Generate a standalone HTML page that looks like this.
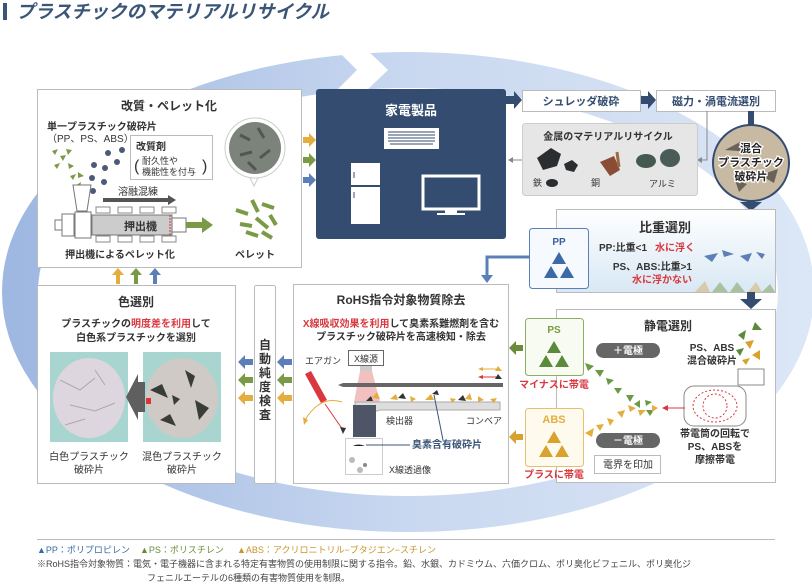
<!DOCTYPE html>
<html><head><meta charset="utf-8"><style>
html,body{margin:0;padding:0;background:#fff;width:812px;height:587px;overflow:hidden}
svg{display:block}
text{font-family:"Liberation Sans","Noto Sans CJK JP",sans-serif;font-weight:bold;fill:#333}
</style></head><body>
<svg width="812" height="587" viewBox="0 0 812 587" xmlns="http://www.w3.org/2000/svg">
<defs>
<linearGradient id="rg" x1="0" x2="1" y1="0" y2="0">
<stop offset="0" stop-color="#9fb8e2"/><stop offset="0.5" stop-color="#c9d8f0"/><stop offset="1" stop-color="#dbe6f6"/></linearGradient>
<linearGradient id="wat" x1="0" x2="0" y1="0" y2="1"><stop offset="0" stop-color="#fff"/><stop offset="1" stop-color="#d8e8f4"/></linearGradient>
</defs>
<rect x="3" y="3" width="4" height="17" fill="#3b5578"/>
<text x="16" y="18" font-size="18.5" style="fill:#3b5578;font-style:italic">プラスチックのマテリアルリサイクル</text>
<ellipse cx="408" cy="292" rx="388" ry="222" fill="none" stroke="url(#rg)" stroke-width="36"/>
<polygon points="335,48 365,48 388,70 365,92 335,92 357,70" fill="#fff"/>
<!-- pellet box -->
<rect x="37.5" y="89.5" width="264" height="178" fill="#fff" stroke="#bbb"/>
<text x="169" y="110" font-size="12" text-anchor="middle">改質・ペレット化</text>
<text x="47" y="130" font-size="10">単一プラスチック破砕片</text>
<text x="47" y="142" font-size="10" style="font-weight:normal">（PP、PS、ABS）</text>
<rect x="130.5" y="135.5" width="82" height="44" fill="#fff" stroke="#bbb"/>
<text x="136" y="150" font-size="10">改質剤</text>
<text x="142" y="164" font-size="9" style="font-weight:normal">耐久性や</text>
<text x="142" y="175" font-size="9" style="font-weight:normal">機能性を付与</text>
<text x="134" y="171" font-size="16" style="font-weight:normal">(</text><text x="202" y="171" font-size="16" style="font-weight:normal">)</text>
<g fill="#7a9a46">
<polygon points="52,151 58,149 55,155"/><polygon points="60,156 66,155 63,161"/><polygon points="66,149 72,150 68,155"/><polygon points="54,165 60,163 57,169"/><polygon points="68,163 74,166 69,169"/><polygon points="70,176 76,174 73,180"/><polygon points="78,172 84,176 78,178"/><polygon points="75,186 81,182 80,188"/></g>
<g fill="#4a5a78"><circle cx="108" cy="153" r="3"/><circle cx="122" cy="150" r="3"/><circle cx="94" cy="165" r="3"/><circle cx="105" cy="168" r="3"/><circle cx="117" cy="162" r="3"/><circle cx="92" cy="178" r="3"/><circle cx="104" cy="182" r="3"/><circle cx="93" cy="191" r="3"/></g>
<polygon points="73,185 91,185 87,211 77,211" fill="#fff" stroke="#777"/>
<text x="118" y="195" font-size="10" style="font-weight:normal">溶融混練</text>
<polygon points="103,198 168,198 168,195 176,200 168,205 168,202 103,202" fill="#555"/>
<rect x="96" y="207" width="14" height="6" fill="#fff" stroke="#888"/><rect x="118" y="207" width="14" height="6" fill="#fff" stroke="#888"/><rect x="140" y="207" width="14" height="6" fill="#fff" stroke="#888"/><rect x="162" y="207" width="14" height="6" fill="#fff" stroke="#888"/>
<rect x="96" y="236" width="14" height="6" fill="#fff" stroke="#888"/><rect x="118" y="236" width="14" height="6" fill="#fff" stroke="#888"/><rect x="140" y="236" width="14" height="6" fill="#fff" stroke="#888"/><rect x="162" y="236" width="14" height="6" fill="#fff" stroke="#888"/>
<rect x="55" y="220" width="8" height="10" fill="#fff" stroke="#777"/>
<rect x="62" y="214" width="12" height="22" fill="#fff" stroke="#777"/>
<rect x="75" y="212" width="16" height="26" fill="#fff" stroke="#777"/>
<rect x="92" y="215" width="80" height="20" fill="#ccc" stroke="#777"/>
<rect x="172" y="218" width="14" height="14" fill="#fff" stroke="#777"/>
<line x1="170" y1="215" x2="170" y2="235" stroke="#d33" stroke-dasharray="2,1"/>
<text x="124" y="230" font-size="11">押出機</text>
<polygon points="186,222 202,222 202,217 213,225 202,233 202,228 186,228" fill="#7a9a46"/>
<text x="120" y="258" font-size="10" text-anchor="middle">押出機によるペレット化</text>
<circle cx="255" cy="148" r="30" fill="#fff" stroke="#ccc"/>
<circle cx="255" cy="148" r="26" fill="#7c837a"/>
<g stroke="#555" stroke-width="3"><line x1="240" y1="135" x2="250" y2="140"/><line x1="258" y1="128" x2="264" y2="138"/><line x1="240" y1="155" x2="252" y2="152"/><line x1="260" y1="158" x2="270" y2="150"/><line x1="248" y1="162" x2="256" y2="170"/></g>
<polygon points="250,178 258,178 254,186" fill="#fff" stroke="#ccc"/>
<g stroke="#7a9a46" stroke-width="4"><line x1="236" y1="210" x2="248" y2="214"/><line x1="252" y1="200" x2="258" y2="212"/><line x1="262" y1="204" x2="274" y2="208"/><line x1="240" y1="224" x2="252" y2="226"/><line x1="256" y1="218" x2="268" y2="228"/><line x1="270" y1="215" x2="276" y2="225"/><line x1="246" y1="232" x2="258" y2="236"/><line x1="262" y1="232" x2="272" y2="238"/></g>
<text x="255" y="258" font-size="10" text-anchor="middle">ペレット</text>
<polygon points="303,137 309,137 309,133 316,140 309,147 309,143 303,143" fill="#e4ae3e"/>
<polygon points="303,157 309,157 309,153 316,160 309,167 309,163 303,163" fill="#7a9a46"/>
<polygon points="303,177 309,177 309,173 316,180 309,187 309,183 303,183" fill="#5b7fb6"/>
<polygon points="116,284 116,275 112,275 118,268 124,275 120,275 120,284" fill="#e4ae3e"/>
<polygon points="134,284 134,275 130,275 136,268 142,275 138,275 138,284" fill="#7a9a46"/>
<polygon points="153,284 153,275 149,275 155,268 161,275 157,275 157,284" fill="#5b7fb6"/>
<!-- 家電 -->
<rect x="316" y="89" width="190" height="150" rx="3" fill="#344c70"/>
<text x="411" y="115" font-size="13" text-anchor="middle" style="fill:#fff">家電製品</text>
<rect x="384" y="128" width="55" height="21" fill="#fff"/>
<g stroke="#344c70"><line x1="388" y1="132" x2="435" y2="132"/><line x1="388" y1="135" x2="435" y2="135"/><line x1="388" y1="138" x2="435" y2="138"/><line x1="388" y1="141" x2="435" y2="141"/><line x1="390" y1="144" x2="433" y2="144"/></g>
<rect x="351" y="163" width="29" height="61" fill="#fff"/><line x1="351" y1="186" x2="380" y2="186" stroke="#344c70" stroke-width="2"/>
<line x1="354" y1="172" x2="354" y2="178" stroke="#344c70"/><line x1="354" y1="192" x2="354" y2="198" stroke="#344c70"/>
<rect x="423" y="176" width="56" height="33" fill="none" stroke="#fff" stroke-width="3"/>
<rect x="445" y="210" width="12" height="3" fill="#fff"/><rect x="437" y="213" width="28" height="2" fill="#fff"/>
<!-- top flow -->
<polygon points="506,96 514,96 514,91 522,100 514,109 514,104 506,104" fill="#344c70"/>
<rect x="522.5" y="90.5" width="118" height="21" fill="#fff" stroke="#bbb"/>
<text x="581" y="105" font-size="11" text-anchor="middle" style="fill:#344c70">シュレッダ破砕</text>
<polygon points="641,96 648,96 648,91 656,100 648,109 648,104 641,104" fill="#344c70"/>
<rect x="656.5" y="90.5" width="119" height="21" fill="#fff" stroke="#bbb"/>
<text x="716" y="105" font-size="11" text-anchor="middle" style="fill:#344c70">磁力・渦電流選別</text>
<rect x="748" y="111" width="6" height="14" fill="#344c70"/>
<polyline points="707,111 707,160 700,160" fill="none" stroke="#888"/>
<polygon points="697,160 702,157 702,163" fill="#888"/>
<rect x="522.5" y="123.5" width="175" height="72" rx="3" fill="#e6e6e6" stroke="#ccc"/>
<text x="608" y="140" font-size="10" text-anchor="middle">金属のマテリアルリサイクル</text>
<path d="M537,158 l14,-10 l10,6 l-4,12 l-14,4z" fill="#2a2e30"/><path d="M564,164 l8,-4 l6,5 l-4,7 l-8,-2z" fill="#2a2e30"/><ellipse cx="552" cy="183" rx="6" ry="4" fill="#2a2e30"/>
<text x="533" y="186" font-size="9" style="font-weight:normal">鉄</text>
<path d="M600,162 l14,-6 l6,14 l-10,6z" fill="#8a4c34"/><line x1="617" y1="152" x2="619" y2="167" stroke="#9a6a44" stroke-width="3"/>
<text x="591" y="186" font-size="9" style="font-weight:normal">銅</text>
<ellipse cx="646" cy="161" rx="10" ry="7" fill="#445a50"/><ellipse cx="670" cy="158" rx="10" ry="9" fill="#4a5c58"/>
<text x="649" y="187" font-size="9" style="font-weight:normal">アルミ</text>
<line x1="511" y1="160" x2="522" y2="160" stroke="#888"/><polygon points="508,160 513,157 513,163" fill="#888"/>
<circle cx="751" cy="163" r="38" fill="#c7b9a2" stroke="#344c70" stroke-width="2"/>
<path d="M725,150 l15,-8 l10,10z M760,175 l18,-6 l-4,14z M735,180 l12,4 l-8,8z" fill="#6a6458"/>
<text x="751" y="152" font-size="11" text-anchor="middle" style="fill:#222;stroke:#fff;stroke-width:2.5;paint-order:stroke">混合</text>
<text x="751" y="166" font-size="11" text-anchor="middle" style="fill:#222;stroke:#fff;stroke-width:2.5;paint-order:stroke">プラスチック</text>
<text x="751" y="180" font-size="11" text-anchor="middle" style="fill:#222;stroke:#fff;stroke-width:2.5;paint-order:stroke">破砕片</text>
<polygon points="747,200 755,200 755,202 762,202 751,211 740,202 747,202" fill="#344c70"/>
<!-- 比重 -->
<rect x="556.5" y="209.5" width="219" height="83" fill="url(#wat)" stroke="#bbb"/>
<text x="665" y="232" font-size="13" text-anchor="middle">比重選別</text>
<text x="599" y="251" font-size="10">PP:比重&lt;1</text><text x="655" y="251" font-size="10" style="fill:#d9383f">水に浮く</text>
<text x="692" y="270" font-size="10" text-anchor="end">PS、ABS:比重&gt;1</text>
<text x="692" y="283" font-size="10" text-anchor="end" style="fill:#d9383f">水に浮かない</text>
<g fill="#5b7fb6"><polygon points="704,256 718,253 712,262"/><polygon points="722,250 734,254 724,257"/><polygon points="740,256 752,253 748,262"/><polygon points="756,252 765,254 762,259"/></g>
<g opacity="0.6"><polygon points="695,292 705,281 710,292" fill="#d4b87a"/><polygon points="712,292 720,282 728,292" fill="#8aa86a"/><polygon points="730,292 737,282 745,292" fill="#8aa86a"/><polygon points="748,292 756,282 762,292" fill="#d4b87a"/><polygon points="762,292 770,284 775,292" fill="#8aa86a"/></g>
<rect x="529.5" y="228.5" width="59" height="60" rx="3" fill="#f6f9fd" stroke="#5b7fb6"/>
<text x="559" y="245" font-size="10" text-anchor="middle" style="fill:#3b5f9a">PP</text>
<g fill="#3b6aa6"><polygon points="559,252 566,264 552,264"/><polygon points="551,266 558,278 544,278"/><polygon points="567,266 574,278 560,278"/></g>
<polyline points="529,257 487,257 487,276" fill="none" stroke="#5b7fb6" stroke-width="3"/>
<polygon points="481,275 493,275 487,283" fill="#5b7fb6"/>
<polygon points="747,292 755,292 755,299 762,299 751,309 740,299 747,299" fill="#344c70"/>
<!-- 静電 -->
<rect x="556.5" y="309.5" width="219" height="173" fill="#fff" stroke="#bbb"/>
<text x="668" y="330" font-size="12" text-anchor="middle">静電選別</text>
<rect x="596" y="343" width="64" height="15" rx="7.5" fill="#666"/>
<text x="628" y="354" font-size="10" text-anchor="middle" style="fill:#fff">＋電極</text>
<rect x="596" y="433" width="64" height="15" rx="7.5" fill="#666"/>
<text x="628" y="444" font-size="10" text-anchor="middle" style="fill:#fff">－電極</text>
<rect x="594.5" y="455.5" width="66" height="18" fill="#fff" stroke="#bbb"/>
<text x="628" y="468" font-size="10" text-anchor="middle" style="font-weight:normal">電界を印加</text>
<text x="712" y="351" font-size="10" text-anchor="middle">PS、ABS</text>
<text x="712" y="364" font-size="10" text-anchor="middle">混合破砕片</text>
<g fill="#5a8a3a"><polygon points="738,335 746,330 744,340"/><polygon points="755,322 762,330 752,330"/><polygon points="736,350 744,348 740,356"/></g>
<g fill="#d9a22e"><polygon points="745,342 754,340 750,349"/><polygon points="752,355 760,350 760,360"/><polygon points="742,360 750,358 746,365"/></g>
<rect x="738" y="369" width="26" height="16" fill="#fff" stroke="#888"/>
<rect x="684" y="386" width="62" height="40" rx="10" fill="#fff" stroke="#888"/>
<ellipse cx="715" cy="406" rx="22" ry="16" fill="none" stroke="#d9383f" stroke-dasharray="2,2"/>
<ellipse cx="715" cy="406" rx="12" ry="12" fill="none" stroke="#d9383f" stroke-dasharray="2,2"/>
<line x1="665" y1="408" x2="685" y2="408" stroke="#d9383f"/><polygon points="662,408 668,405 668,411" fill="#d9383f"/>
<text x="715" y="437" font-size="10" text-anchor="middle">帯電筒の回転で</text>
<text x="715" y="450" font-size="10" text-anchor="middle">PS、ABSを</text>
<text x="715" y="463" font-size="10" text-anchor="middle">摩擦帯電</text>
<g fill="#6a9a44"><polygon points="585,363 594,366 588,371"/><polygon points="595,370 604,370 600,377"/><polygon points="606,378 614,380 608,385"/><polygon points="614,388 622,388 618,394"/><polygon points="626,395 634,395 630,402"/><polygon points="634,404 640,400 640,408"/><polygon points="645,400 652,402 646,406"/><polygon points="646,410 654,410 650,416"/></g>
<g fill="#e4ae3e"><polygon points="585,433 594,428 592,437"/><polygon points="596,425 604,424 600,431"/><polygon points="607,418 614,420 610,426"/><polygon points="617,412 625,410 622,418"/><polygon points="628,405 636,408 630,412"/><polygon points="638,410 646,410 640,416"/><polygon points="652,405 658,408 652,412"/></g>
<rect x="525.5" y="318.5" width="58" height="57" rx="3" fill="#f7fbf2" stroke="#8ab060"/>
<text x="554" y="333" font-size="10" text-anchor="middle" style="fill:#7a9a46">PS</text>
<g fill="#5a8a3a"><polygon points="554,341 561,353 547,353"/><polygon points="546,355 553,367 539,367"/><polygon points="562,355 569,367 555,367"/></g>
<text x="554" y="388" font-size="10" text-anchor="middle" style="fill:#d9383f">マイナスに帯電</text>
<rect x="525.5" y="408.5" width="58" height="58" rx="3" fill="#fffaee" stroke="#e4c070"/>
<text x="554" y="423" font-size="11" text-anchor="middle" style="fill:#e4ae3e">ABS</text>
<g fill="#d9a22e"><polygon points="554,431 561,443 547,443"/><polygon points="546,445 553,457 539,457"/><polygon points="562,445 569,457 555,457"/></g>
<text x="554" y="478" font-size="10" text-anchor="middle" style="fill:#d9383f">プラスに帯電</text>
<polygon points="523,345 516,345 516,341 509,348 516,355 516,351 523,351" fill="#6a8c3a"/>
<polygon points="523,434 516,434 516,430 509,437 516,444 516,440 523,440" fill="#d9a22e"/>
<!-- RoHS -->
<rect x="293.5" y="284.5" width="215" height="199" fill="#fff" stroke="#bbb"/>
<text x="401" y="304" font-size="12" text-anchor="middle">RoHS指令対象物質除去</text>
<text x="401" y="327" font-size="10" text-anchor="middle"><tspan style="fill:#d9383f">X線吸収効果を利用</tspan>して臭素系難燃剤を含む</text>
<text x="401" y="340" font-size="10" text-anchor="middle">プラスチック破砕片を高速検知・除去</text>
<rect x="348.5" y="350.5" width="35" height="15" fill="#fff" stroke="#666"/>
<text x="366" y="362" font-size="9" text-anchor="middle" style="font-weight:normal">X線源</text>
<rect x="360" y="366" width="12" height="5" fill="#ccc"/>
<polygon points="360,371 372,371 380,402 354,402" fill="#f0b0b0" opacity="0.8"/>
<text x="305" y="364" font-size="9" style="font-weight:normal">エアガン</text>
<polygon points="305,374 311,371 327,400 321,403" fill="#d9383f"/>
<line x1="325" y1="404" x2="343" y2="430" stroke="#d9383f"/><polygon points="343,434 340,427 346,428" fill="#333"/>
<path d="M305,420 Q320,395 342,402" fill="none" stroke="#e4ae3e"/><polygon points="304,425 303,417 308,420" fill="#e4ae3e"/>
<polygon points="338,385 343,383 343,387" fill="#666"/><rect x="343" y="383" width="160" height="4" fill="#666"/>
<line x1="480" y1="369" x2="498" y2="369" stroke="#e4ae3e"/><polygon points="478,369 483,367 483,371" fill="#e4ae3e"/><polygon points="498,366 502,371 495,371" fill="#e4ae3e"/>
<line x1="480" y1="377" x2="498" y2="377" stroke="#d9383f"/><polygon points="478,377 483,375 483,379" fill="#d9383f"/><polygon points="498,374 502,379 495,379" fill="#333"/>
<polygon points="355,402 500,402 500,410 380,410 355,418" fill="#ddd" stroke="#aaa"/>
<polygon points="353,405 376,405 376,437 353,437" fill="#4e5566"/>
<text x="386" y="424" font-size="9" style="font-weight:normal">検出器</text>
<text x="466" y="424" font-size="9" style="font-weight:normal">コンベア</text>
<g fill="#e4ae3e"><polygon points="372,398 377,392 380,399"/><polygon points="390,399 396,394 398,400"/><polygon points="410,396 416,399 411,402"/><polygon points="425,400 431,394 434,400"/><polygon points="450,398 456,399 452,403"/><polygon points="478,396 484,400 478,402"/><polygon points="490,399 497,398 494,403"/><polygon points="465,399 470,393 472,400"/></g>
<g fill="#333"><polygon points="366,401 371,396 373,401"/><polygon points="398,398 403,393 406,399"/><polygon points="432,394 437,390 439,395"/><polygon points="458,400 463,395 466,401"/></g>
<line x1="434" y1="395" x2="443" y2="440" stroke="#3b5578"/>
<rect x="345.5" y="438.5" width="37" height="36" fill="#fff" stroke="#ccc"/>
<path d="M353,446 q5,-3 12,0z" fill="#222"/><circle cx="352" cy="460" r="3" fill="#bbb"/><circle cx="365" cy="465" r="2" fill="#888"/><circle cx="360" cy="470" r="3" fill="#bbb"/>
<line x1="366" y1="445" x2="410" y2="445" stroke="#3b5578"/>
<text x="412" y="448" font-size="10" style="fill:#3b5578">臭素含有破砕片</text>
<text x="389" y="473" font-size="9" style="font-weight:normal">X線透過像</text>
<polygon points="292,359 284,359 284,355 277,362 284,369 284,365 292,365" fill="#5b7fb6"/>
<polygon points="292,377 284,377 284,373 277,380 284,387 284,383 292,383" fill="#7a9a46"/>
<polygon points="292,395 284,395 284,391 277,398 284,405 284,401 292,401" fill="#e4ae3e"/>
<rect x="254.5" y="285.5" width="21" height="198" rx="2" fill="#fff" stroke="#bbb"/>
<text x="265" y="349" font-size="12" text-anchor="middle">自</text><text x="265" y="363" font-size="12" text-anchor="middle">動</text><text x="265" y="377" font-size="12" text-anchor="middle">純</text><text x="265" y="391" font-size="12" text-anchor="middle">度</text><text x="265" y="405" font-size="12" text-anchor="middle">検</text><text x="265" y="419" font-size="12" text-anchor="middle">査</text>
<polygon points="253,359 245,359 245,355 238,362 245,369 245,365 253,365" fill="#5b7fb6"/>
<polygon points="253,377 245,377 245,373 238,380 245,387 245,383 253,383" fill="#7a9a46"/>
<polygon points="253,395 245,395 245,391 238,398 245,405 245,401 253,401" fill="#e4ae3e"/>
<!-- 色選別 -->
<rect x="37.5" y="285.5" width="198" height="198" fill="#fff" stroke="#bbb"/>
<text x="136" y="306" font-size="12" text-anchor="middle">色選別</text>
<text x="136" y="327" font-size="10" text-anchor="middle">プラスチックの<tspan style="fill:#d9383f">明度差を利用</tspan>して</text>
<text x="136" y="341" font-size="10" text-anchor="middle">白色系プラスチックを選別</text>
<rect x="50" y="352" width="78" height="90" fill="#a9d5d0"/>
<ellipse cx="89" cy="398" rx="36" ry="40" fill="#ddd6de"/>
<g stroke="#aaa" stroke-width="1" fill="none"><path d="M60,380 l20,10 l15,-12 M70,405 l25,6 l20,-8 M65,425 l20,-6 M95,370 l10,15"/></g>
<rect x="143" y="352" width="78" height="90" fill="#a9d5d0"/>
<ellipse cx="182" cy="398" rx="36" ry="40" fill="#cfcac6"/>
<path d="M150,390 l12,-6 l6,14z M185,370 l10,6 l-4,12z M195,400 l14,8 l-10,12z M160,420 l10,-6 l6,12z M172,395 l8,4 l-6,6z" fill="#3a3c38"/>
<rect x="146" y="398" width="5" height="6" fill="#d33"/>
<polygon points="145,382 138,382 138,374 126,397 138,420 138,412 145,412" fill="#5f5f5f"/>
<text x="89" y="460" font-size="10" text-anchor="middle" style="font-weight:normal">白色プラスチック</text>
<text x="89" y="473" font-size="10" text-anchor="middle" style="font-weight:normal">破砕片</text>
<text x="182" y="460" font-size="10" text-anchor="middle" style="font-weight:normal">混色プラスチック</text>
<text x="182" y="473" font-size="10" text-anchor="middle" style="font-weight:normal">破砕片</text>
<!-- footer -->
<line x1="37" y1="539.5" x2="775" y2="539.5" stroke="#bbb"/>
<text x="37" y="553" font-size="9" style="font-weight:normal;fill:#3b6aa6">▲PP：ポリプロピレン</text>
<text x="140" y="553" font-size="9" style="font-weight:normal;fill:#6a8c3a">▲PS：ポリスチレン</text>
<text x="237" y="553" font-size="9" style="font-weight:normal;fill:#c9942a">▲ABS：アクリロニトリル−ブタジエン−スチレン</text>
<text x="37" y="567" font-size="9" style="font-weight:normal;fill:#444">※RoHS指令対象物質：電気・電子機器に含まれる特定有害物質の使用制限に関する指令。鉛、水銀、カドミウム、六価クロム、ポリ臭化ビフェニル、ポリ臭化ジ</text>
<text x="147" y="581" font-size="9" style="font-weight:normal;fill:#444">フェニルエーテルの6種類の有害物質使用を制限。</text>
</svg>
</body></html>
